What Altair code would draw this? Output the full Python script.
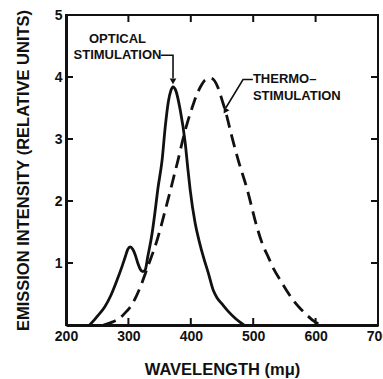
import altair as alt
import pandas as pd

# ---- data ----
opt_wl = [238, 250, 262, 272, 282, 290, 295, 299, 303, 307, 311, 315, 319, 323, 327, 331, 338, 343,
          347, 354, 359, 364, 368, 371.5, 376, 383, 391, 395.5, 399, 407, 414, 421, 428, 436, 442,
          450, 460, 472, 485]
opt_val = [0.0, 0.14, 0.29, 0.48, 0.73, 0.95, 1.10, 1.22, 1.26, 1.22, 1.13, 1.00, 0.90, 0.86, 0.89,
           1.10, 1.48, 1.85, 2.18, 2.66, 3.19, 3.60, 3.78, 3.84, 3.78, 3.47, 2.94, 2.50, 2.18, 1.64,
           1.33, 1.07, 0.84, 0.56, 0.44, 0.34, 0.22, 0.10, 0.0]

thermo_wl = [260, 275, 286, 297, 303, 311, 319, 331, 346, 352, 359, 366, 373, 380, 387, 395, 402,
             409, 416, 423, 432, 438, 444, 450, 455, 466, 476, 490, 506, 515, 524, 533, 543, 554,
             564, 575, 586, 595, 602, 615]
thermo_val = [0.0, 0.05, 0.11, 0.22, 0.29, 0.43, 0.61, 0.94, 1.37, 1.58, 1.85, 2.12, 2.40, 2.68,
              2.98, 3.28, 3.50, 3.70, 3.85, 3.95, 3.98, 3.94, 3.82, 3.63, 3.47, 3.03, 2.66, 2.20,
              1.58, 1.30, 1.10, 0.90, 0.73, 0.55, 0.40, 0.27, 0.16, 0.08, 0.03, 0.0]

x_labels = [200, 300, 400, 500, 600, 700]
y_labels = [1, 2, 3, 4, 5]
x_inner_ticks = [300, 400, 500, 600]
y_inner_ticks = [1, 2, 3, 4]

# annotations (data coordinates)
ann_text = ["OPTICAL", "STIMULATION", "THERMO\u2013", "STIMULATION"]
ann_wl = [282.5, 282.5, 499.5, 499.5]
ann_val = [4.62, 4.35, 3.96, 3.69]
ann_align = ["center", "center", "left", "left"]

lead_id = ["o", "o", "o", "t", "t", "t"]
lead_ord = [0, 1, 2, 0, 1, 2]
lead_wl = [352, 371.5, 371.5, 499.5, 483.7, 456]
lead_val = [4.35, 4.35, 3.98, 3.96, 3.96, 3.50]

arrow_wl = [371.5, 455]
arrow_val = [3.93, 3.45]
arrow_angle = [180, 210]

W, H = 312, 310
FONT = "Liberation Sans"
INK = "#111111"

xs = alt.Scale(domain=[200, 700], nice=False, zero=False)
ys = alt.Scale(domain=[0, 5], nice=False)

x_axis = alt.Axis(values=x_labels, title="WAVELENGTH (m\u03bc)", grid=False, ticks=False,
                  domainWidth=3, domainColor=INK, labelFlush=False, labelOverlap=False,
                  labelFont=FONT, labelFontSize=14, labelFontWeight="bold", labelColor=INK,
                  labelPadding=4, titleFont=FONT, titleFontSize=16.5, titleFontWeight="bold",
                  titleColor=INK, titlePadding=18)
y_axis = alt.Axis(values=y_labels, title="EMISSION INTENSITY (RELATIVE UNITS)", grid=False,
                  ticks=False, domainWidth=3, domainColor=INK, labelFont=FONT, labelFontSize=14,
                  labelFontWeight="bold", labelColor=INK, labelPadding=4, labelFlush=False,
                  labelOverlap=False,
                  titleFont=FONT, titleFontSize=16.5, titleFontWeight="bold", titleColor=INK,
                  titleX=-43, titleY=H / 2, titleAlign="center", titleBaseline="middle")

X = alt.X("wl:Q", scale=xs, axis=x_axis)
Y = alt.Y("val:Q", scale=ys, axis=y_axis)

opt_df = pd.DataFrame({"wl": opt_wl, "val": opt_val})
th_df = pd.DataFrame({"wl": thermo_wl, "val": thermo_val})

opt_line = alt.Chart(opt_df).mark_line(color=INK, strokeWidth=2.8, interpolate="monotone").encode(
    x=X, y=Y)
th_line = alt.Chart(th_df).mark_line(color=INK, strokeWidth=2.8, interpolate="monotone",
                                     strokeDash=[13, 7]).encode(x=X, y=Y)

xt = pd.DataFrame({"wl": x_inner_ticks})
yt = pd.DataFrame({"val": y_inner_ticks})
tick_kw = dict(color=INK, strokeWidth=2)
bottom_ticks = alt.Chart(xt).mark_rule(**tick_kw).encode(x=X, y=alt.value(H), y2=alt.value(H - 7))
top_ticks = alt.Chart(xt).mark_rule(**tick_kw).encode(x=X, y=alt.value(0), y2=alt.value(7))
left_ticks = alt.Chart(yt).mark_rule(**tick_kw).encode(y=Y, x=alt.value(0), x2=alt.value(7))
right_ticks = alt.Chart(yt).mark_rule(**tick_kw).encode(y=Y, x=alt.value(W), x2=alt.value(W - 7))

ann_df = pd.DataFrame({"t": ann_text, "wl": ann_wl, "val": ann_val, "a": ann_align})
ann_c = alt.Chart(ann_df[ann_df.a == "center"]).mark_text(
    font=FONT, fontSize=13, fontWeight="bold", color=INK, align="center", baseline="middle"
).encode(x=X, y=Y, text="t:N")
ann_l = alt.Chart(ann_df[ann_df.a == "left"]).mark_text(
    font=FONT, fontSize=13, fontWeight="bold", color=INK, align="left", baseline="middle"
).encode(x=X, y=Y, text="t:N")

lead_df = pd.DataFrame({"id": lead_id, "o": lead_ord, "wl": lead_wl, "val": lead_val})
leaders = alt.Chart(lead_df).mark_line(color=INK, strokeWidth=1.6).encode(
    x=X, y=Y, detail="id:N", order="o:Q")

arr_df = pd.DataFrame({"wl": arrow_wl, "val": arrow_val, "ang": arrow_angle})
arrows = alt.Chart(arr_df).mark_point(shape="triangle-up", filled=True, color=INK, size=45,
                                       opacity=1).encode(
    x=X, y=Y, angle=alt.Angle("ang:Q", scale=None))

chart = alt.layer(
    opt_line, th_line, bottom_ticks, top_ticks, left_ticks, right_ticks,
    leaders, arrows, ann_c, ann_l
).properties(
    width=W, height=H,
    padding={"left": 66, "top": 15, "right": 5, "bottom": 54},
    autosize=alt.AutoSizeParams(type="none"),
    background="white",
).configure_view(stroke=INK, strokeWidth=2)

chart.save("out.html", embed_options={"renderer": "svg", "actions": False})
